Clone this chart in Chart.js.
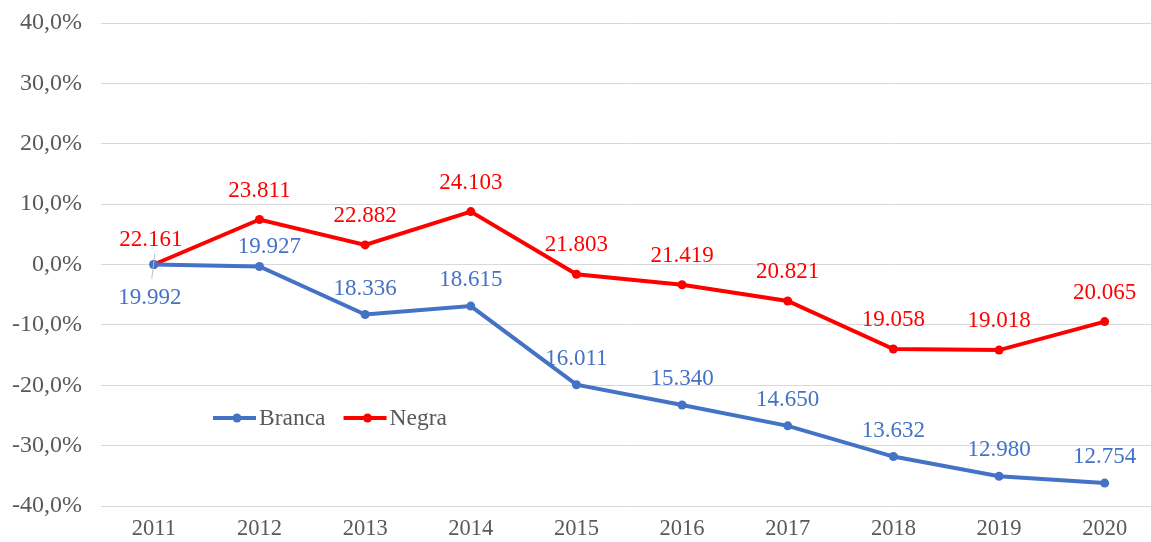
<!DOCTYPE html>
<html>
<head>
<meta charset="utf-8">
<script src="https://cdn.jsdelivr.net/npm/chart.js@4/dist/chart.umd.min.js"></script>
<style>
  html, body { margin: 0; padding: 0; background: #fff; overflow: hidden; }
  #wrap { width: 1162px; height: 542px; }
</style>
</head>
<body>
<div id="wrap"><canvas id="c" width="1162" height="542"></canvas></div>
<script>
// Years on the horizontal axis
const years = ['2011', '2012', '2013', '2014', '2015', '2016', '2017', '2018', '2019', '2020'];

// Absolute counts written next to each point
const brancaCounts = [19992, 19927, 18336, 18615, 16011, 15340, 14650, 13632, 12980, 12754];
const negraCounts  = [22161, 23811, 22882, 24103, 21803, 21419, 20821, 19058, 19018, 20065];

// Variation relative to 2011 (%), plotted on the vertical axis
const brancaChange = [0.00, -0.33, -8.28, -6.89, -19.91, -23.27, -26.72, -31.81, -35.07, -36.20];
const negraChange  = [0.00, 7.45, 3.25, 8.76, -1.62, -3.35, -6.05, -14.00, -14.18, -9.46];

// Vertical axis tick values
const yTicks = [40, 30, 20, 10, 0, -10, -20, -30, -40];

const BLUE = '#4472C4';
const RED = '#FF0000';
const GREY = '#595959';
const SERIF = '"Liberation Serif", "Times New Roman", serif';

function fmtCount(n) {
  const s = String(n);
  return s.slice(0, s.length - 3) + '.' + s.slice(s.length - 3);
}
function fmtPct(v) {
  return v.toFixed(1).replace('.', ',') + '%';
}

// Writes the count above each point; the 2011 blue one sits below and
// the 2012 blue one is nudged right so it clears the red line
const pointLabels = {
  id: 'pointLabels',
  afterDatasetsDraw(chart) {
    const ctx = chart.ctx;
    ctx.save();
    ctx.font = '23px ' + SERIF;
    ctx.textAlign = 'center';
    ctx.textBaseline = 'middle';
    chart.data.datasets.forEach((ds, di) => {
      const meta = chart.getDatasetMeta(di);
      meta.data.forEach((pt, i) => {
        const text = fmtCount(ds.counts[i]);
        let x = pt.x, y = pt.y;
        if (di === 0) {
          if (i === 0) { x -= 4; y += 33; }
          else if (i === 1) { x += 10; y -= 20; }
          else { y -= 26; }
        } else {
          if (i === 0) { x -= 3; y -= 25; } else { y -= 29; }
        }
        ctx.fillStyle = ds.borderColor;
        ctx.fillText(text, x, y);
      });
    });
    // thin leader line at the shared 2011 point
    const p0 = chart.getDatasetMeta(0).data[0];
    ctx.strokeStyle = '#bfbfbf';
    ctx.lineWidth = 1;
    ctx.beginPath();
    ctx.moveTo(p0.x + 1, p0.y - 11);
    ctx.lineTo(p0.x - 2, p0.y + 14);
    ctx.stroke();
    ctx.restore();
  }
};

// Legend drawn inside the plot: line sample with a dot, then the series name
const innerLegend = {
  id: 'innerLegend',
  afterDraw(chart) {
    const ctx = chart.ctx;
    ctx.save();
    ctx.font = '23.5px ' + SERIF;
    ctx.textBaseline = 'middle';
    const y = 418;
    let x = 213;
    chart.data.datasets.forEach(ds => {
      ctx.strokeStyle = ds.borderColor;
      ctx.lineWidth = 4;
      ctx.beginPath();
      ctx.moveTo(x, y);
      ctx.lineTo(x + 43, y);
      ctx.stroke();
      ctx.fillStyle = ds.borderColor;
      ctx.beginPath();
      ctx.arc(x + 24, y, 4.5, 0, Math.PI * 2);
      ctx.fill();
      ctx.fillStyle = GREY;
      ctx.fillText(ds.label, x + 46, y + 1);
      x += 46 + ctx.measureText(ds.label).width + 18;
    });
    ctx.restore();
  }
};

new Chart(document.getElementById('c'), {
  type: 'line',
  data: {
    labels: years,
    datasets: [
      {
        label: 'Branca',
        data: brancaChange,
        counts: brancaCounts,
        borderColor: BLUE,
        backgroundColor: BLUE,
        borderWidth: 4,
        pointRadius: 4.5,
        pointBorderWidth: 0,
        tension: 0
      },
      {
        label: 'Negra',
        data: negraChange,
        counts: negraCounts,
        borderColor: RED,
        backgroundColor: RED,
        borderWidth: 4,
        pointRadius: 4.5,
        pointBorderWidth: 0,
        tension: 0
      }
    ]
  },
  options: {
    responsive: false,
    animation: false,
    layout: { padding: { top: 23, right: 1, left: 0, bottom: 0 } },
    plugins: {
      legend: { display: false },
      tooltip: { enabled: false }
    },
    scales: {
      x: {
        offset: true,
        grid: { display: false, drawTicks: false },
        border: { display: false },
        ticks: {
          color: GREY,
          font: { family: SERIF, size: 22.5 },
          padding: 10,
          maxRotation: 0
        },
        afterFit(scale) { scale.height = 36; scale.paddingLeft = 0; scale.paddingRight = 0; }
      },
      y: {
        min: -40,
        max: 40,
        afterBuildTicks(scale) { scale.ticks = yTicks.map(v => ({ value: v })); },
        grid: { color: '#d9d9d9', lineWidth: 1, drawTicks: false },
        border: { display: false },
        ticks: {
          color: GREY,
          font: { family: SERIF, size: 24 },
          padding: 19,
          callback: v => fmtPct(v)
        },
        afterFit(scale) { scale.width = 101; scale.paddingTop = 0; scale.paddingBottom = 0; }
      }
    }
  },
  plugins: [pointLabels, innerLegend]
});
</script>
</body>
</html>
